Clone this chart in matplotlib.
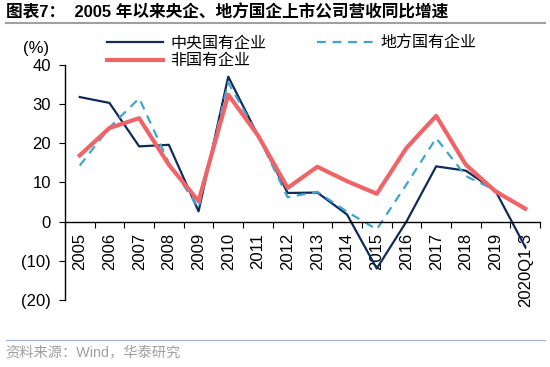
import numpy as np
import matplotlib
matplotlib.use('Agg')
import matplotlib.pyplot as plt
from matplotlib.ticker import FuncFormatter, FixedLocator

plt.rcParams['font.family'] = ['Liberation Sans', 'Noto Sans CJK SC']
plt.rcParams['axes.unicode_minus'] = False

years = ['2005', '2006', '2007', '2008', '2009', '2010', '2011', '2012',
         '2013', '2014', '2015', '2016', '2017', '2018', '2019', '2020Q1-3']
central = [31.8, 30.3, 19.2, 19.6, 2.6, 37.0, 22.0, 7.3,
           7.4, 1.8, -12.0, 0.0, 14.1, 13.0, 7.8, -6.5]
local = [14.3, 24.0, 31.5, 15.0, 3.5, 35.5, 22.0, 6.2,
         7.6, 2.5, -2.0, 9.5, 21.3, 11.6, 8.0, 3.0]
private = [16.9, 23.9, 26.4, 14.5, 5.2, 32.4, 22.0, 8.6,
           14.0, 10.3, 7.1, 18.8, 27.0, 14.5, 7.7, 3.3]

fig = plt.figure(figsize=(5.5, 3.67), dpi=100)
ax = fig.add_axes([0.118, 0.183, 0.864, 0.64])

x = np.arange(len(years))
ln1, = ax.plot(x, central, color='#0f2b5b', lw=1.6, label='中央国有企业')
ln2, = ax.plot(x, local, color='#3ea4d3', lw=1.6, ls=(0, (4, 3)), label='地方国有企业')
ln3, = ax.plot(x, private, color='#f06468', lw=3, label='非国有企业')

ax.set_xlim(-0.5, len(years) - 0.5)
ax.set_ylim(-20, 40)
ax.set_yticks([-20, -10, 0, 10, 20, 30, 40])
ax.yaxis.set_major_formatter(FuncFormatter(lambda v, p: f'({abs(int(v))})' if v < 0 else f'{int(v)}'))

ax.spines['top'].set_visible(False)
ax.spines['right'].set_visible(False)
ax.spines['bottom'].set_position(('data', 0))
ax.spines['left'].set_linewidth(1)
ax.spines['bottom'].set_linewidth(1)

# ticks between categories, labels at category centres
ax.xaxis.set_major_locator(FixedLocator(np.arange(-0.5, len(years), 1)))
ax.xaxis.set_major_formatter(plt.NullFormatter())
ax.set_xticks(x, minor=True)
ax.set_xticklabels(years, minor=True, rotation=90, fontsize=12)
ax.tick_params(axis='x', which='minor', length=0, pad=8)
ax.tick_params(axis='x', which='major', length=4, direction='out')
ax.tick_params(axis='y', labelsize=12, length=4, direction='out', pad=6)

fig.text(0.065, 0.869, '(%)', fontsize=12, ha='center', va='center')

ax.legend(handles=[ln1, ln3, ln2], ncol=2, frameon=False, fontsize=11.5,
          loc='upper left', bbox_to_anchor=(0.1945, 0.902), bbox_transform=fig.transFigure,
          borderpad=0, borderaxespad=0, handlelength=3.5, handletextpad=0.45,
          columnspacing=3.2, labelspacing=0.15)

fig.text(0.01, 0.967, '图表7：  2005 年以来央企、地方国企上市公司营收同比增速',
         fontsize=12, fontweight='bold', ha='left', va='center')
fig.add_artist(plt.Line2D([0.01, 0.99], [0.937, 0.937], color='#a0a0a0', lw=1.5))
fig.add_artist(plt.Line2D([0.01, 0.99], [0.074, 0.074], color='#9bb0cc', lw=0.8))
fig.text(0.01, 0.038, '资料来源：Wind，华泰研究', fontsize=10.3, color='#a0a0a0',
         ha='left', va='center')

fig.savefig('out.png', dpi=100)
